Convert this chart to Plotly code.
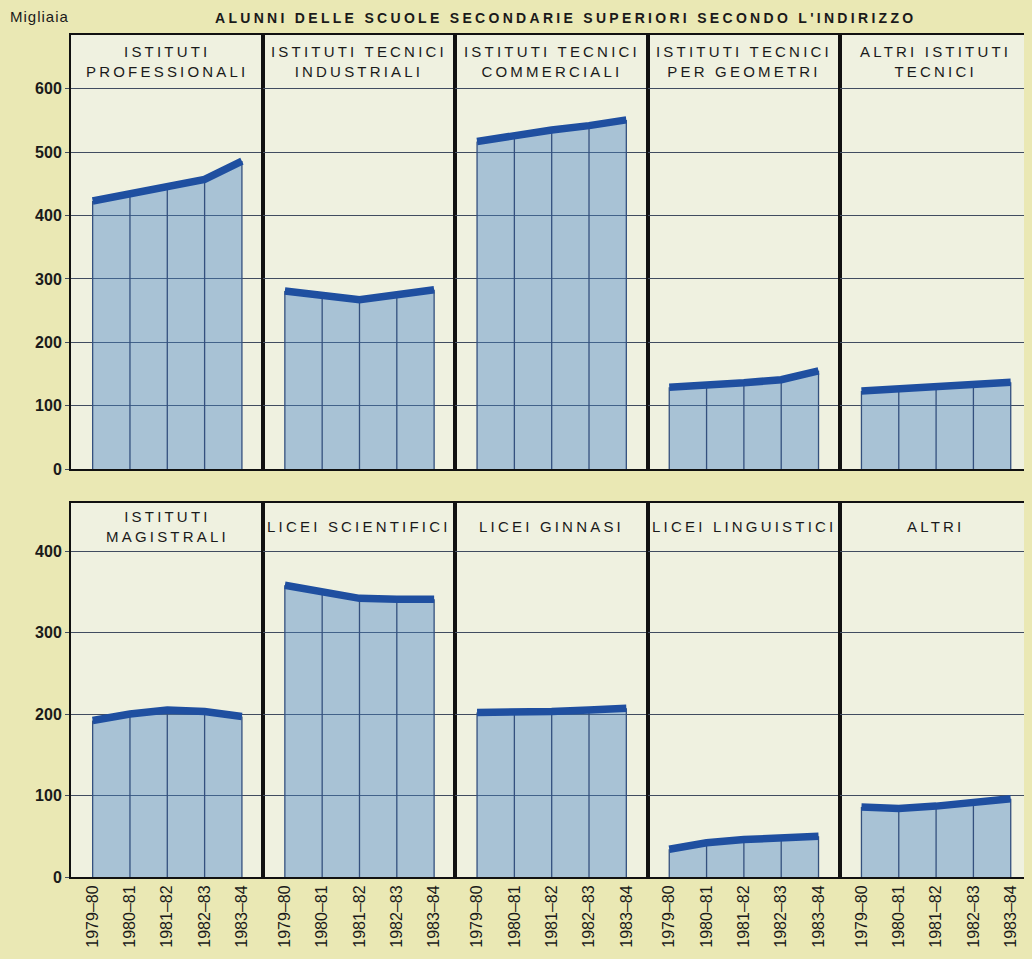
import plotly.graph_objects as go

years = ["1979–80", "1980–81", "1981–82", "1982–83", "1983–84"]

titles = [
    "ISTITUTI<br>PROFESSIONALI", "ISTITUTI TECNICI<br>INDUSTRIALI", "ISTITUTI TECNICI<br>COMMERCIALI",
    "ISTITUTI TECNICI<br>PER GEOMETRI", "ALTRI ISTITUTI<br>TECNICI",
    "ISTITUTI<br>MAGISTRALI", "LICEI SCIENTIFICI", "LICEI GINNASI", "LICEI LINGUISTICI", "ALTRI",
]

professionali = [423, 435, 447, 457, 486]
industriali = [281, 274, 267, 275, 283]
commerciali = [517, 527, 535, 542, 551]
geometri = [129, 132, 136, 141, 155]
altri_tecnici = [123, 127, 130, 134, 137]
magistrali = [192, 200, 205, 203, 197]
scientifici = [358, 350, 342, 341, 341]
ginnasi = [202, 202, 203, 205, 207]
linguistici = [34, 42, 46, 49, 50]
altri = [86, 84, 87, 91, 96]

series = [professionali, industriali, commerciali, geometri, altri_tecnici,
          magistrali, scientifici, ginnasi, linguistici, altri]

top_ticks = [0, 100, 200, 300, 400, 500, 600]
bottom_ticks = [0, 100, 200, 300, 400]

PAPER = "#eae8b4"
PANEL = "#eff1e0"
FILL = "rgba(70,128,198,0.42)"
LINE = "#1f4fa0"
VLINE = "#34507e"
GRID = "#404c60"
FONT = "Liberation Sans, Arial, sans-serif"

OFF = 8  # page body margin offset
W, H = 1032 - OFF, 959 - OFF
ML, MR, MT = 71 - OFF, 0, 35 - OFF
MB = H - (877 - OFF)
plot_h = H - MT - MB
plot_w = W - ML - MR
top_y0 = (877 - 469) / plot_h
bot_y1 = (877 - 503) / plot_h

fig = go.Figure()
layout = dict(
    width=W, height=H, paper_bgcolor=PAPER, plot_bgcolor=PANEL,
    margin=dict(l=ML, r=MR, t=MT, b=MB, autoexpand=False), showlegend=False,
    font=dict(family=FONT, color="#1a1a1a"),
)

def sp(text, ls):
    return "<br>".join(f'<span style="letter-spacing:{ls}px">{t}</span>' for t in text.split("<br>"))

annotations = []
xs = list(range(len(years)))
for k, vals in enumerate(series):
    row = k // 5
    col = k % 5
    ax = "" if k == 0 else str(k + 1)
    xname, yname = "x" + ax, "y" + ax
    fig.add_trace(go.Scatter(x=xs, y=vals, mode="lines", line=dict(width=0), fill="tozeroy",
                             fillcolor=FILL, xaxis=xname, yaxis=yname, hoverinfo="skip"))
    vx, vy = [], []
    for i, v in zip(xs, vals):
        vx += [i, i, None]
        vy += [0, v, None]
    fig.add_trace(go.Scatter(x=vx, y=vy, mode="lines", line=dict(color=VLINE, width=1.3),
                             xaxis=xname, yaxis=yname, hoverinfo="skip"))
    fig.add_trace(go.Scatter(x=xs, y=vals, mode="lines", line=dict(color=LINE, width=7.5),
                             xaxis=xname, yaxis=yname))

    ticks = top_ticks if row == 0 else bottom_ticks
    yr = [0, 685] if row == 0 else [0, 459]
    dom_y = [top_y0, 1] if row == 0 else [0, bot_y1]
    layout["xaxis" + ax] = dict(
        domain=[col / 5, (col + 1) / 5], range=[-0.58, 4.57], anchor=yname,
        tickvals=xs, ticktext=years, tickangle=-90, showticklabels=(row == 1),
        tickfont=dict(size=16, color="#1a1a1a"), ticks="", showgrid=False, zeroline=False,
        showline=True, mirror=True, linecolor="#111", linewidth=2, fixedrange=True,
    )
    layout["yaxis" + ax] = dict(
        domain=dom_y, range=yr, anchor=xname, tickvals=ticks,
        showticklabels=(col == 0), tickfont=dict(size=16, color="#1a1a1a", weight="bold"),
        ticks="outside" if col == 0 else "", ticklen=4, tickcolor=GRID,
        showgrid=True, gridcolor=GRID, gridwidth=1.2, zeroline=False,
        showline=True, mirror=True, linecolor="#111", linewidth=2, fixedrange=True,
    )
    annotations.append(dict(
        text=sp(titles[k], 3.2), xref=xname + " domain", yref=yname + " domain",
        x=0.5, y=0.938 if row == 0 else 0.936, xanchor="center", yanchor="middle",
        showarrow=False, font=dict(size=15, color="#1a1a1a"), align="center",
    ))

annotations.append(dict(
    text=sp("ALUNNI DELLE SCUOLE SECONDARIE SUPERIORI SECONDO L'INDIRIZZO", 3.3),
    xref="paper", yref="paper", x=(565 - OFF - ML) / plot_w, y=1 + 17 / plot_h,
    xanchor="center", yanchor="middle", showarrow=False,
    font=dict(size=14, color="#1a1a1a", weight="bold"),
))
annotations.append(dict(
    text=sp("Migliaia", 1), xref="paper", yref="paper",
    x=-(ML - 0) / plot_w, y=1 + 18 / plot_h, xanchor="left", yanchor="middle",
    showarrow=False, font=dict(size=15, color="#1a1a1a"),
))
layout["annotations"] = annotations
fig.update_layout(**layout)
fig.write_html("out.html", post_script="document.body.style.background='%s';" % PAPER)
